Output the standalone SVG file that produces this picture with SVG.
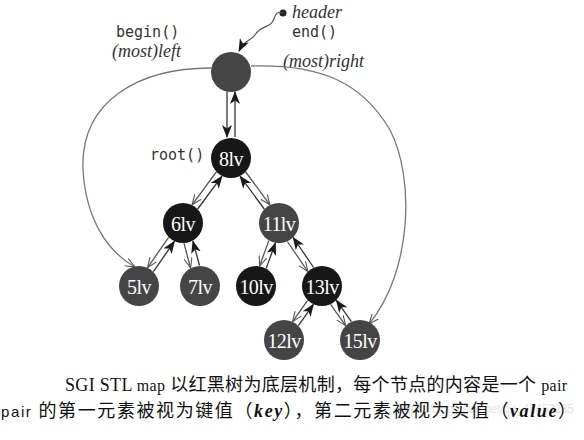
<svg xmlns="http://www.w3.org/2000/svg" width="584" height="440" viewBox="0 0 584 440">
<defs>
<marker id="fill" viewBox="0 0 13 10" refX="12" refY="5" markerWidth="13" markerHeight="10" markerUnits="userSpaceOnUse" orient="auto">
<path d="M0,0 L13,5 L0,10 L3.5,5 Z" fill="#1a1a1a"/>
</marker>
<marker id="open" viewBox="0 0 12 10" refX="11" refY="5" markerWidth="11" markerHeight="9" markerUnits="userSpaceOnUse" orient="auto">
<path d="M0,0.5 L11,5 L0,9.5" fill="none" stroke="#555" stroke-width="1.2"/>
</marker>
</defs>
<style>
.blk{fill:#171717}
.red{fill:#454545}
.lbl{font-family:"Liberation Serif",serif;font-size:20px;fill:#fff;text-anchor:middle;letter-spacing:-0.6px}
.mono{font-family:"DejaVu Sans Mono",monospace;font-size:15px;fill:#333}
.it{font-family:"Liberation Serif",serif;font-style:italic;font-size:18px;fill:#333}
.dn{fill:none;stroke:#555;stroke-width:1.3;marker-end:url(#open)}
.up{fill:none;stroke:#333;stroke-width:1.3;marker-end:url(#fill)}
.cv{fill:none;stroke:#777;stroke-width:1.3;marker-end:url(#open)}
.cap{font-family:"Liberation Serif","Noto Sans CJK SC",serif;font-size:18px;fill:#111}
</style>
<rect width="584" height="440" fill="#fff"/>

<g id="labels">
<text class="mono" x="116" y="37">begin()</text>
<text class="it" x="112" y="57">(most)left</text>
<text class="it" x="292" y="18">header</text>
<text class="mono" x="292" y="37">end()</text>
<text class="it" x="283" y="67">(most)right</text>
<text class="mono" x="150" y="160">root()</text>
</g>

<g id="connectors">
<circle cx="283" cy="13" r="3.5" fill="#222"/>
<path d="M283 13 C 272 10, 277 21, 269 25 S 259 29, 255 35 S 245 39, 239 51" fill="none" stroke="#555" stroke-width="1.2" marker-end="url(#fill)"/>
<line class="up" x1="227" y1="92" x2="227" y2="137" />
<line class="up" x1="235" y1="137" x2="235" y2="92" />
<path class="cv" d="M211 68 C 140 68, 80 100, 83 170 C 86 220, 108 252, 135 267"/>
<path class="cv" d="M251 66 C 320 64, 362 82, 390 130 C 415 178, 412 272, 369 324"/>

<line class="dn" x1="216.3" y1="172" x2="192.1" y2="204.8"/>
<line class="up" x1="197.7" y1="209" x2="221.9" y2="176.2"/>

<line class="dn" x1="245.7" y1="172" x2="269.9" y2="204.8"/>
<line class="up" x1="264.3" y1="209" x2="240.1" y2="176.2"/>

<line class="dn" x1="168.6" y1="237.4" x2="147.6" y2="267.6"/>
<line class="up" x1="153.4" y1="271.6" x2="174.4" y2="241.4"/>

<line class="dn" x1="184" y1="243.4" x2="190.6" y2="267.8"/>
<line class="up" x1="199.5" y1="265.5" x2="192.9" y2="241.1"/>

<line class="dn" x1="268.8" y1="240.6" x2="259.6" y2="266"/>
<line class="up" x1="266.2" y1="268.4" x2="275.4" y2="243"/>

<line class="dn" x1="287.4" y1="241.5" x2="307.8" y2="271.5"/>
<line class="up" x1="313.6" y1="267.5" x2="293.2" y2="237.5"/>

<line class="dn" x1="307.6" y1="300.4" x2="292.6" y2="321.6"/>
<line class="up" x1="298.4" y1="325.6" x2="313.4" y2="304.4"/>

<line class="dn" x1="330.6" y1="304.4" x2="345.6" y2="325.6"/>
<line class="up" x1="351.4" y1="321.6" x2="336.4" y2="300.4"/>
</g>

<g id="header"><circle class="red" cx="231" cy="72" r="20"/></g>
<g id="n8"><circle class="blk" cx="231" cy="158" r="20"/><text class="lbl" x="231" y="166">8lv</text></g>
<g id="n6"><circle class="blk" cx="183" cy="223" r="20"/><text class="lbl" x="183" y="231">6lv</text></g>
<g id="n11"><circle class="red" cx="279" cy="223" r="20"/><text class="lbl" x="279" y="231">11lv</text></g>
<g id="n5"><circle class="red" cx="139" cy="286" r="20"/><text class="lbl" x="139" y="294">5lv</text></g>
<g id="n7"><circle class="red" cx="200" cy="286" r="20"/><text class="lbl" x="200" y="294">7lv</text></g>
<g id="n10"><circle class="blk" cx="256" cy="286" r="20"/><text class="lbl" x="256" y="294">10lv</text></g>
<g id="n13"><circle class="blk" cx="322" cy="286" r="20"/><text class="lbl" x="322" y="294">13lv</text></g>
<g id="n12"><circle class="red" cx="284" cy="340" r="20"/><text class="lbl" x="284" y="348">12lv</text></g>
<g id="n15"><circle class="red" cx="360" cy="340" r="20"/><text class="lbl" x="360" y="348">15lv</text></g>

<g id="caption">
<text x="398" y="413" font-family="Liberation Sans,sans-serif" font-size="12" fill="#e4e4e4" textLength="176" lengthAdjust="spacing">https://blog.csdn.net/qq_41453285</text>
<text class="cap" x="65" y="391" textLength="502" lengthAdjust="spacing">SGI STL <tspan font-size="16">map</tspan> 以红黑树为底层机制，每个节点的内容是一个 <tspan font-size="16">pair</tspan></text>
<text class="cap" x="1" y="417" textLength="575" lengthAdjust="spacing"><tspan font-family="Liberation Sans,sans-serif" font-size="15">pair</tspan> 的第一元素被视为键值（<tspan font-style="italic" font-weight="bold">key</tspan>），第二元素被视为实值（<tspan font-style="italic" font-weight="bold">value</tspan>）</text>
</g>
</svg>
